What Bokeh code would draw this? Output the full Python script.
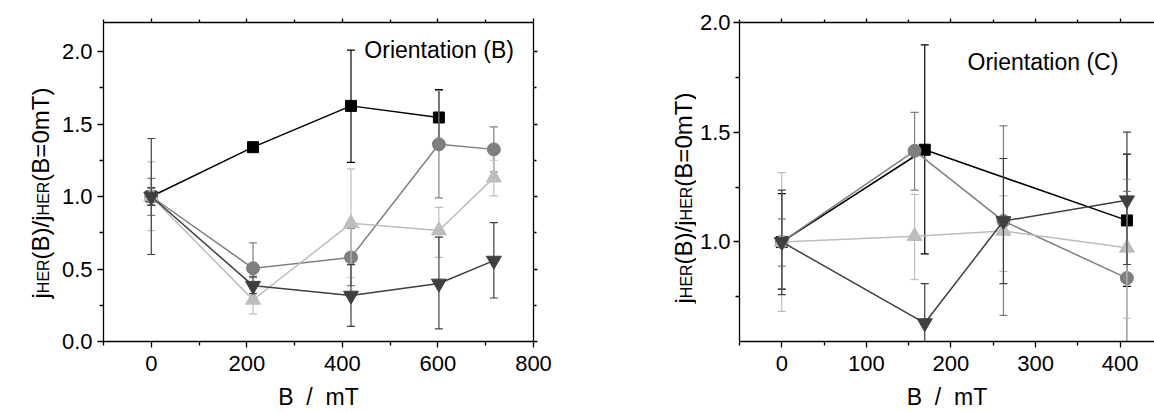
from bokeh.plotting import figure
from bokeh.models import Range1d, LinearAxis, FixedTicker, Label, CustomLabelingPolicy
from bokeh.core.properties import value
from bokeh.layouts import row
from bokeh.embed import file_html
from bokeh.resources import INLINE
import math

# ---------------- data: Orientation (B) ----------------
b_sq_x = [0, 213, 418, 602]
b_sq_y = [1.0, 1.34, 1.625, 1.545]
b_sq_lo = [0.94, 1.32, 1.235, 1.36]
b_sq_hi = [1.06, 1.36, 2.01, 1.738]

b_ci_x = [0, 213, 418, 602, 717]
b_ci_y = [1.0, 0.505, 0.58, 1.36, 1.325]
b_ci_lo = [0.87, 0.44, 0.385, 0.99, 1.17]
b_ci_hi = [1.125, 0.68, 0.78, 1.73, 1.48]

b_tu_x = [0, 213, 418, 602, 717]
b_tu_y = [1.0, 0.287, 0.815, 0.765, 1.13]
b_tu_lo = [0.765, 0.19, 0.443, 0.58, 1.005]
b_tu_hi = [1.24, 0.38, 1.19, 0.925, 1.25]

b_td_x = [0, 213, 418, 602, 717]
b_td_y = [1.0, 0.385, 0.317, 0.40, 0.558]
b_td_lo = [0.6, 0.33, 0.105, 0.087, 0.30]
b_td_hi = [1.4, 0.45, 0.53, 0.72, 0.82]

# ---------------- data: Orientation (C) ----------------
c_sq_x = [0, 169, 408]
c_sq_y = [1.0, 1.42, 1.098]
c_sq_lo = [0.785, 0.945, 0.797]
c_sq_hi = [1.22, 1.898, 1.40]

c_ci_x = [0, 157, 262, 408]
c_ci_y = [1.0, 1.415, 1.095, 0.835]
c_ci_lo = [0.89, 1.236, 0.665, 0.44]
c_ci_hi = [1.105, 1.59, 1.529, 1.23]

c_tu_x = [0, 157, 262, 408]
c_tu_y = [1.0, 1.026, 1.05, 0.973]
c_tu_lo = [0.683, 0.828, 0.866, 0.652]
c_tu_hi = [1.316, 1.217, 1.21, 1.285]

c_td_x = [0, 169, 262, 408]
c_td_y = [1.0, 0.63, 1.095, 1.19]
c_td_lo = [0.76, 0.45, 0.81, 0.897]
c_td_hi = [1.236, 0.81, 1.38, 1.50]

# ---------------- ticks ----------------
b_xticks = [0, 200, 400, 600, 800]
b_xtick_labels = ["0", "200", "400", "600", "800"]
b_xminor = [-100, 100, 300, 500, 700]
b_yticks = [0.0, 0.5, 1.0, 1.5, 2.0]
b_ytick_labels = ["0.0", "0.5", "1.0", "1.5", "2.0"]
b_yminor = [0.25, 0.75, 1.25, 1.75]

c_xticks = [0, 100, 200, 300, 400]
c_xtick_labels = ["0", "100", "200", "300", "400"]
c_xminor = [-50, 50, 150, 250, 350]
c_yticks = [1.0, 1.5, 2.0]
c_ytick_labels = ["1.0", "1.5", "2.0"]
c_yminor = [0.75, 1.25, 1.75]

x_title = "B \u00a0/\u00a0 mT"
y_title_pieces = [("j", False), ("HER", True), ("(B)/j", False), ("HER", True), ("(B=0mT)", False)]

FONT = "Liberation Sans"
H = 412
TOP, BOT = 22, 71           # shared frame borders (row aligns them)
FH = H - TOP - BOT
COL_SQ, COL_CI, COL_TU, COL_TD = "#000000", "#7f7f7f", "#bdbdbd", "#3f3f3f"

# Arial-like advance widths (em) for y-title pieces
ADV = {"j": .222, "H": .722, "E": .667, "R": .722, "(": .333, ")": .333, "B": .667,
       "/": .278, "=": .584, "0": .556, "m": .833, "T": .611}


def text_w(s, size):
    return sum(ADV.get(c, .556) for c in s) * size


NO_LABELS = CustomLabelingPolicy(code="""
for (const i of indices) { indices.unset(i) }
return indices
""")


def style_axis(ax, ticks, labels, minor, show_labels=True, tick_out=6, minor_out=4, standoff=5):
    ax.ticker = FixedTicker(ticks=ticks, minor_ticks=minor)
    ax.major_label_overrides = {t: l for t, l in zip(ticks, labels)}
    ax.axis_line_width = 1.3
    ax.axis_line_color = "black"
    ax.major_tick_line_width = 1.3
    ax.minor_tick_line_width = 1.3
    ax.major_tick_line_color = "black"
    ax.minor_tick_line_color = "black"
    ax.major_tick_in = 0
    ax.minor_tick_in = 0
    ax.major_tick_out = tick_out
    ax.minor_tick_out = minor_out
    ax.major_label_text_font = FONT
    ax.major_label_text_color = "black"
    ax.major_label_standoff = standoff
    if show_labels:
        ax.major_label_text_font_size = "22px"
    else:
        ax.major_label_text_font_size = "1px"
        ax.major_label_standoff = 0
        ax.major_label_policy = NO_LABELS


def panel(width, xr, yr, bl, br, xt, yt, right_axis, ystandoff):
    p = figure(width=width, height=H, x_range=Range1d(*xr), y_range=Range1d(*yr),
               output_backend="svg", toolbar_location=None,
               min_border_left=bl, min_border_right=br, min_border_top=TOP,
               min_border_bottom=BOT)
    p.grid.visible = False
    p.outline_line_color = None
    p.background_fill_color = "white"
    p.border_fill_color = "white"
    style_axis(p.xaxis[0], *xt, standoff=8)
    style_axis(p.yaxis[0], *yt, standoff=ystandoff)
    p.xaxis[0].axis_label = x_title
    p.xaxis[0].axis_label_text_font = FONT
    p.xaxis[0].axis_label_text_font_size = "23px"
    p.xaxis[0].axis_label_text_font_style = "normal"
    p.xaxis[0].axis_label_text_color = "black"
    p.xaxis[0].axis_label_standoff = 10
    top = LinearAxis()
    style_axis(top, *xt, show_labels=False, tick_out=4, minor_out=3)
    p.add_layout(top, "above")
    if right_axis:
        r = LinearAxis()
        style_axis(r, *yt, show_labels=False, tick_out=4, minor_out=3)
        p.add_layout(r, "right")
    return p


def add_series(p, x, y, lo, hi, color, marker, size):
    p.segment(x0=x, y0=lo, x1=x, y1=hi, line_color=color, line_width=1.2)
    p.scatter(x, lo, marker="dash", size=8, line_color=color, line_width=1.2)
    p.scatter(x, hi, marker="dash", size=8, line_color=color, line_width=1.2)
    p.line(x, y, line_color=color, line_width=1.5)
    p.scatter(x, y, marker=marker, size=size, fill_color=color, line_color=color)


def title_fig(width, yr, center_px, start_px):
    """Strip holding the rotated y title j_HER(B)/j_HER(B=0mT).
    x in strip pixels; y shares the panel's range (frames are aligned by the row)."""
    t = figure(width=width, height=H, x_range=Range1d(0, width), y_range=Range1d(*yr),
               output_backend="svg", toolbar_location=None,
               min_border_left=0, min_border_right=0, min_border_top=TOP, min_border_bottom=BOT,
               x_axis_location=None, y_axis_location=None)
    t.grid.visible = False
    t.outline_line_color = None
    t.background_fill_color = "white"
    t.border_fill_color = "white"
    ppy = FH / (yr[1] - yr[0])
    pos = start_px
    for txt, sub in y_title_pieces:
        sz = 16 if sub else 24
        yd = yr[0] + (H - BOT - pos) / ppy
        t.text(x=[center_px + (3.5 if sub else 0)], y=[yd], text=[txt], angle=math.pi / 2,
               text_align="left", text_baseline="middle",
               text_font=value(FONT), text_font_size=value(f"{sz}px"), text_color="black")
        pos -= text_w(txt, sz)
    return t


# ---------------- left panel ----------------
TL = 58
b_xr, b_yr = (-100, 800), (0, 2.2)
tl = title_fig(TL, b_yr, 39.5, 298)
pb = panel(580 - TL, b_xr, b_yr, 103 - TL, 47,
           (b_xticks, b_xtick_labels, b_xminor), (b_yticks, b_ytick_labels, b_yminor), True, 5)
add_series(pb, b_sq_x, b_sq_y, b_sq_lo, b_sq_hi, COL_SQ, "square", 11)
add_series(pb, b_ci_x, b_ci_y, b_ci_lo, b_ci_hi, COL_CI, "circle", 13)
add_series(pb, b_tu_x, b_tu_y, b_tu_lo, b_tu_hi, COL_TU, "triangle", 15)
add_series(pb, b_td_x, b_td_y, b_td_lo, b_td_hi, COL_TD, "inverted_triangle", 15)
pb.add_layout(Label(x=446, y=2.01, text="Orientation (B)", text_align="left",
                    text_baseline="middle", text_font=FONT, text_font_size="23px",
                    text_color="black"))

# ---------------- right panel ----------------
TR = 116
c_xr, c_yr = (-50, 440.6), (0.546, 2.0)
tr = title_fig(TR, c_yr, 682.5 - 580, 303)
RW = 1154 - 580 - TR
pc = panel(RW, c_xr, c_yr, 737 - 580 - TR, 0,
           (c_xticks, c_xtick_labels, c_xminor), (c_yticks, c_ytick_labels, c_yminor), False, 3)
add_series(pc, c_sq_x, c_sq_y, c_sq_lo, c_sq_hi, COL_SQ, "square", 11)
add_series(pc, c_ci_x, c_ci_y, c_ci_lo, c_ci_hi, COL_CI, "circle", 13)
add_series(pc, c_tu_x, c_tu_y, c_tu_lo, c_tu_hi, COL_TU, "triangle", 15)
add_series(pc, c_td_x, c_td_y, c_td_lo, c_td_hi, COL_TD, "inverted_triangle", 15)
pc.add_layout(Label(x=219.6, y=1.818, text="Orientation (C)", text_align="left",
                    text_baseline="middle", text_font=FONT, text_font_size="23px",
                    text_color="black"))

layout = row(tl, pb, tr, pc, spacing=0)
open("out.html", "w").write(file_html(layout, INLINE))
